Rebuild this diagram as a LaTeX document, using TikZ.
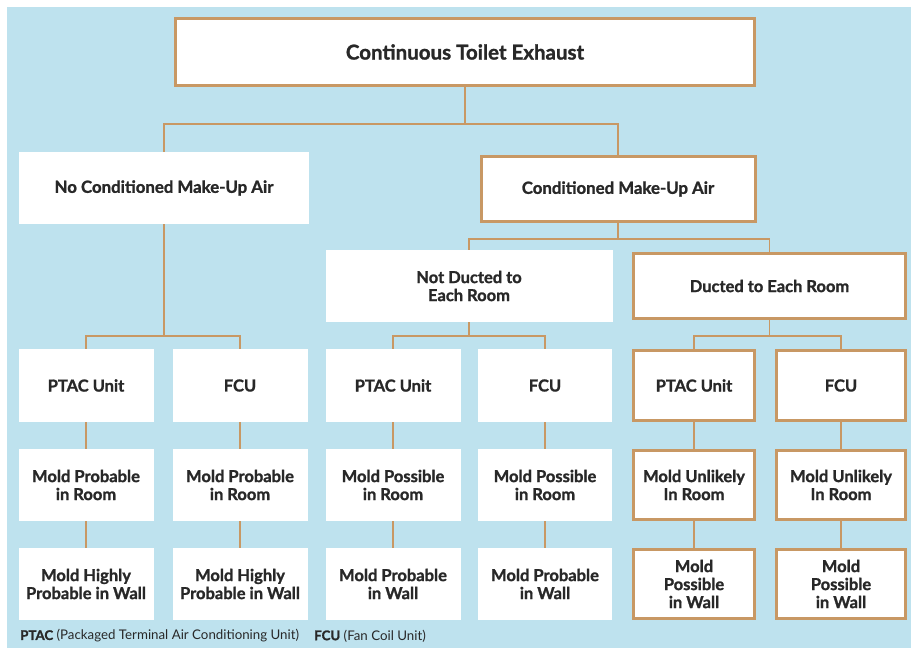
\documentclass[tikz,border=0pt]{standalone}
\usepackage{fontspec}
\setmainfont{Lato}[BoldFeatures={FakeBold=1.3}]
\usetikzlibrary{positioning}
\definecolor{bgblue}{RGB}{190,226,238}
\definecolor{tan}{RGB}{200,152,100}
\definecolor{txt}{RGB}{40,40,40}
\pgfdeclarelayer{back}
\pgfdeclarelayer{background}
\pgfsetlayers{back,background,main}
\begin{document}
\begin{tikzpicture}[x=1pt,y=-1pt,
  plainbox/.style={fill=white,draw=none,inner sep=0pt,align=center,text=txt,font=\bfseries\fontsize{16.5}{18}\selectfont},
  tanbox/.style={plainbox,draw=tan,line width=3pt},
  conn/.style={draw=tan,line width=1.6pt}]
\useasboundingbox (0,0) rectangle (911,648);
\begin{pgfonlayer}{back}
\fill[white] (0,0) rectangle (911,648);
\fill[bgblue] (7,7) rectangle (911,648);
\end{pgfonlayer}
% level 1
\node[tanbox,minimum width=579pt,minimum height=67pt,font=\bfseries\fontsize{20.5}{22}\selectfont] (top) at (465,52) {Continuous Toilet Exhaust};
% level 2
\node[plainbox,minimum width=290pt,minimum height=72pt,font=\bfseries\fontsize{16.8}{18}\selectfont] (noc) at (164,188) {No Conditioned Make-Up Air};
\node[tanbox,minimum width=274pt,minimum height=65pt,font=\bfseries\fontsize{16.8}{18}\selectfont] (cond) at (618,189) {Conditioned Make-Up Air};
% level 3
\node[plainbox,minimum width=287pt,minimum height=72pt] (notd) at (469,286) {Not Ducted to\\Each Room};
\node[tanbox,minimum width=272pt,minimum height=65pt] (duct) at (769.5,286) {Ducted to Each Room};
% level 4
\node[plainbox,minimum width=135pt,minimum height=73pt] (a1) at (86,385.5) {PTAC Unit};
\node[plainbox,minimum width=135pt,minimum height=73pt] (b1) at (240,385.5) {FCU};
\node[plainbox,minimum width=135pt,minimum height=73pt] (c1) at (393,385.5) {PTAC Unit};
\node[plainbox,minimum width=134pt,minimum height=73pt] (d1) at (545,385.5) {FCU};
\node[tanbox,minimum width=121pt,minimum height=70pt] (e1) at (694,385.5) {PTAC Unit};
\node[tanbox,minimum width=129pt,minimum height=70pt] (f1) at (841,385.5) {FCU};
% level 5
\node[plainbox,minimum width=135pt,minimum height=72pt] (a2) at (86,485) {Mold Probable\\in Room};
\node[plainbox,minimum width=135pt,minimum height=72pt] (b2) at (240,485) {Mold Probable\\in Room};
\node[plainbox,minimum width=135pt,minimum height=72pt] (c2) at (393,485) {Mold Possible\\in Room};
\node[plainbox,minimum width=134pt,minimum height=72pt] (d2) at (545,485) {Mold Possible\\in Room};
\node[tanbox,minimum width=121pt,minimum height=69pt] (e2) at (694,485) {Mold Unlikely\\In Room};
\node[tanbox,minimum width=129pt,minimum height=69pt] (f2) at (841,485) {Mold Unlikely\\In Room};
% level 6
\node[plainbox,minimum width=135pt,minimum height=72pt] (a3) at (86,584) {Mold Highly\\Probable in Wall};
\node[plainbox,minimum width=135pt,minimum height=72pt] (b3) at (240,584) {Mold Highly\\Probable in Wall};
\node[plainbox,minimum width=135pt,minimum height=72pt] (c3) at (393,584) {Mold Probable\\in Wall};
\node[plainbox,minimum width=134pt,minimum height=72pt] (d3) at (545,584) {Mold Probable\\in Wall};
\node[tanbox,minimum width=121pt,minimum height=69pt] (e3) at (694,584) {Mold\\Possible\\in Wall};
\node[tanbox,minimum width=129pt,minimum height=69pt] (f3) at (841,584) {Mold\\Possible\\in Wall};
% footer
\node[anchor=west,inner sep=0pt,text=txt,font=\fontsize{13.3}{15}\selectfont] (legA) at (20,636) {\textbf{PTAC} (Packaged Terminal Air Conditioning Unit)};
\node[anchor=west,inner sep=0pt,text=txt,font=\fontsize{13.3}{15}\selectfont] (legB) at (314,636) {\textbf{FCU} (Fan Coil Unit)};
% connectors
\begin{pgfonlayer}{background}
\draw[conn] (top.south) -- ++(0,37) -| (noc.north);
\draw[conn] (top.south) -- ++(0,37) -| (cond.north);
\draw[conn] (noc.south) -- ++(0,112) -| (a1.north);
\draw[conn] (noc.south) -- ++(0,112) -| (b1.north);
\draw[conn] (cond.south) -- ++(0,16) -| (notd.north);
\draw[conn] (cond.south) -- ++(0,16) -| (duct.north);
\draw[conn] (notd.south) -- ++(0,14) -| (c1.north);
\draw[conn] (notd.south) -- ++(0,14) -| (d1.north);
\draw[conn] (duct.south) -- ++(0,16) -| (e1.north);
\draw[conn] (duct.south) -- ++(0,16) -| (f1.north);
\foreach \c in {a,b,c,d,e,f}{
  \draw[conn] (\c1.south) -- (\c2.north);
  \draw[conn] (\c2.south) -- (\c3.north);
}
\end{pgfonlayer}
\end{tikzpicture}
\end{document}
